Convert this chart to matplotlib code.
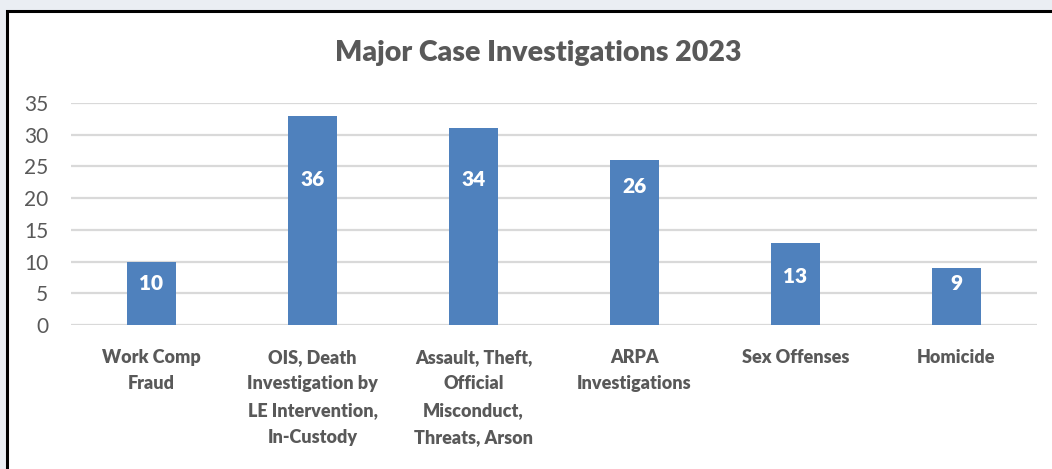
import matplotlib
matplotlib.use("Agg")
import matplotlib.pyplot as plt
from matplotlib.patches import Rectangle

categories = ["Work Comp\nFraud",
              "OIS, Death\nInvestigation by\nLE Intervention,\nIn-Custody",
              "Assault, Theft,\nOfficial\nMisconduct,\nThreats, Arson",
              "ARPA\nInvestigations",
              "Sex Offenses",
              "Homicide"]
bar_heights = [10, 33, 31, 26, 13, 9]
bar_labels = ["10", "36", "34", "26", "13", "9"]
label_y = [6.6, 22.9, 22.9, 21.8, 7.7, 6.5]
yticks = [0, 5, 10, 15, 20, 25, 30, 35]

W, H = 1052, 469
fig = plt.figure(figsize=(W/100, H/100), dpi=100)
fig.patch.set_facecolor("#eaeef3")

# white chart panel with black border (top/left visible)
panel = Rectangle((7/W, -0.05), 1.1, (H-11)/H + 0.05, transform=fig.transFigure,
                  facecolor="white", edgecolor="black", linewidth=2.2, zorder=-10)
fig.patches.append(panel)

ax = fig.add_axes([71/W, 144/H, (1037-71)/W, 222/H])
ax.set_zorder(1)
ax.set_facecolor("none")
font = "Lato"
gray = "#595959"

x = list(range(len(categories)))
ax.bar(x, bar_heights, width=0.31, color="#4f81bd", zorder=3)
for xi, lab, ly in zip(x, bar_labels, label_y):
    ax.text(xi, ly, lab, ha="center", va="center", color="white",
            fontsize=15, fontweight=800, family=font, zorder=4)

ax.set_xlim(-0.5, len(categories) - 0.5)
ax.set_ylim(0, 35)
ax.set_yticks(yticks)
ax.yaxis.grid(True, color="#d9d9d9", linewidth=1.6, zorder=0)
ax.set_axisbelow(True)
for s in ["top", "right", "left", "bottom"]:
    ax.spines[s].set_visible(False)
ax.tick_params(axis="both", length=0)
ax.tick_params(axis="y", pad=16.5)
for t in ax.get_yticklabels():
    t.set_family(font); t.set_fontsize(15); t.set_color(gray)

ax.set_xticks(x)
ax.set_xticklabels(categories, family=font, fontsize=13, fontweight=800,
                   color=gray, linespacing=1.7)
ax.tick_params(axis="x", pad=17)

fig.text(538/W, 1 - 53/H, "Major Case Investigations 2023", ha="center", va="center",
         family=font, fontsize=20.5, fontweight=800, color=gray, zorder=5)

fig.savefig("out.png", dpi=100, facecolor=fig.get_facecolor())
